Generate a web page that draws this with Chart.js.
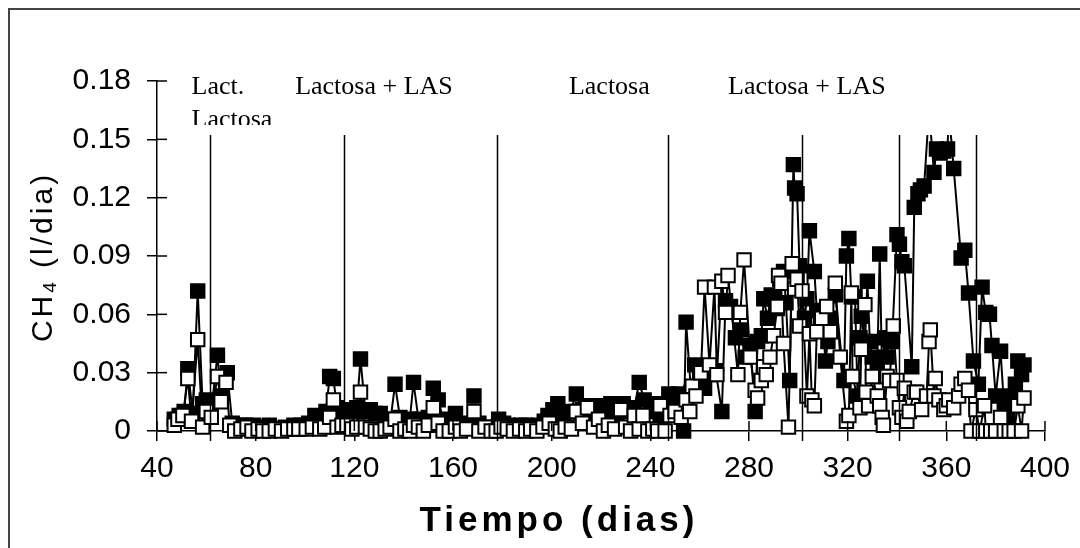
<!DOCTYPE html>
<html>
<head>
<meta charset="utf-8">
<script src="https://cdn.jsdelivr.net/npm/chart.js@4.4.0/dist/chart.umd.min.js"></script>
<style>
    html, body { margin: 0; padding: 0; background: #fff; }
    #wrap { width: 1080px; height: 548px; }
</style>
</head>
<body>
<div id="wrap"><canvas id="grafico" width="1080" height="548"></canvas></div>
<script>
// --- Datos: serie de cuadrados negros ---
const diasNegro = [
    47, 49, 51, 52.5, 54.5, 56.5, 58.5, 60, 62, 64.5, 66, 68.5, 70.5, 73.5,
    76, 79, 82.5, 85.5, 89, 92, 95.5, 98.5, 101.5, 104, 106, 108.5, 110, 111.5, 113, 115,
    117, 119, 121, 122.5, 124.5, 126.5, 128.5, 130.5, 132.5, 134.5, 136.5, 138.5, 140.5, 142.5,
    144, 146, 148, 150, 152, 154, 156, 158.5, 161, 163, 165.5, 168.5, 170.5, 173, 175.5, 178.5,
    180.5, 182.5, 185, 187.5, 189.5, 192, 194.5, 197, 198.5, 200.5, 202.5, 205, 207.5, 210,
    212.5, 214.5, 217, 220, 222, 224, 226.5, 229, 231.5, 233.5, 235.5, 237.5, 240, 242, 244,
    246, 247.5, 249.5, 251.5,
    253.5, 254.5, 256.5, 258, 260, 262, 264, 266.5, 269, 270.5, 272.5, 274.5, 276.5, 278.5,
    280.5, 282.5, 283.5, 285, 286, 287.5, 289, 290, 291.5, 292.5, 294, 295, 296.5, 298, 298.5,
    299.5, 300.5, 302.5, 303.5, 304.5, 306.5, 307.5, 309, 310, 311, 312, 313, 315, 318.5, 319.5,
    320.5, 321.5, 323, 324, 325, 325.5, 327, 328, 329, 330, 332, 333, 334, 335, 336, 337, 338,
    340, 341, 342, 343, 346, 347, 348.5, 349.5, 351, 353, 355, 356, 357.5, 359, 360.5, 361, 363,
    366, 367.5, 369, 371, 373, 374.5, 376, 377.5, 378.5, 380, 382, 383.5, 385, 386.5, 388, 389,
    390.5, 391.5
];
const ch4Negro = [
    0.006, 0.008, 0.010, 0.032, 0.009, 0.072, 0.014, 0.016, 0.010, 0.039, 0.018, 0.030, 0.004, 0.003,
    0.003, 0.003, 0.002, 0.003, 0.001, 0.002, 0.003, 0.003, 0.004, 0.008, 0.007, 0.010, 0.028, 0.027, 0.012, 0.010,
    0.011, 0.010, 0.012, 0.037, 0.010, 0.011, 0.009, 0.009, 0.006, 0.004, 0.024, 0.007, 0.005, 0.006,
    0.025, 0.006, 0.004, 0.007, 0.022, 0.016, 0.006, 0.004, 0.009, 0.004, 0.003, 0.018, 0.004, 0.002, 0.001, 0.006,
    0.004, 0.003, 0.002, 0.003, 0.003, 0.002, 0.003, 0.005, 0.008, 0.011, 0.014, 0.006, 0.010, 0.019,
    0.011, 0.013, 0.010, 0.013, 0.008, 0.014, 0.007, 0.014, 0.010, 0.012, 0.025, 0.016, 0.010, 0.014, 0.008,
    0.012, 0.019, 0.017, 0.019,
    0.000, 0.056, 0.020, 0.034, 0.028, 0.022, 0.029, 0.031, 0.010, 0.067, 0.064, 0.048, 0.052, 0.038,
    0.044, 0.010, 0.046, 0.049, 0.068, 0.058, 0.070, 0.068, 0.063, 0.078, 0.082, 0.066, 0.026, 0.137, 0.125,
    0.122, 0.085, 0.058, 0.068, 0.103, 0.082, 0.062, 0.058, 0.054, 0.036, 0.046, 0.058, 0.070, 0.026, 0.090,
    0.099, 0.069, 0.069, 0.018, 0.048, 0.059, 0.046, 0.077, 0.046, 0.038, 0.033, 0.091, 0.028, 0.048, 0.038, 0.047, 0.046,
    0.101, 0.096, 0.087, 0.085, 0.033, 0.115, 0.122, 0.124, 0.126, 0.165, 0.133, 0.145, 0.143, 0.144, 0.145, 0.165, 0.135,
    0.089, 0.093, 0.071, 0.036, 0.024, 0.074, 0.061, 0.060, 0.044, 0.018, 0.041, 0.011, 0.008, 0.018, 0.024, 0.036,
    0.029, 0.034
];

// --- Datos: serie de cuadrados blancos ---
const diasBlanco = [
    47, 48.5, 50.5, 52.5, 54, 56.5, 58.5, 60, 62, 64.5, 66, 68, 69.5, 71.5,
    74, 76.5, 78.5, 81, 83, 85.5, 88, 90.5, 93, 95.5, 97.5, 100.5, 103, 106, 108, 110,
    111.5, 113, 115, 117, 119, 121, 122.5, 124.5, 126.5, 128.5, 130.5, 132.5, 134.5, 136.5,
    138.5, 140.5, 142.5, 144, 146, 148, 150, 152, 154, 156, 158.5, 161, 163, 165.5, 168.5,
    170.5, 173, 175.5, 177.5, 179.5,
    182, 184.5, 187, 189.5, 191.5, 194, 196.5, 199, 201.5, 203.5, 205.5, 208, 210, 212.5,
    214.5, 217, 219, 221, 223, 225.5, 228, 230, 232, 233.5, 235.5, 237, 239, 241, 243, 244,
    246, 248,
    250, 252.5, 254.5, 256, 257, 258.5, 260.5, 262, 264, 266, 267, 269, 270.5, 271.5, 275.5,
    276.5, 278, 280.5, 282.5, 283.5, 285, 286, 287, 288.5, 290, 291.5, 292, 293, 294, 296,
    297.5, 298.5, 299.5, 300.5, 301.5, 303.5, 304.5, 305.5, 306.5, 307.5, 309.5, 311.5, 313,
    315, 317, 319.5, 320.5, 321.5, 322, 325, 325.5, 327, 327.5, 328.5, 330, 332, 333, 334,
    334.5, 336, 337, 338.5, 340, 341, 342, 343, 344, 345, 347, 348, 350, 352, 353, 353.5, 355,
    355.5, 357, 359, 360, 361, 363, 365, 366, 367.5, 369, 370, 372, 373.5, 375.5, 376, 378,
    380, 382, 383.5, 385.5, 387.5, 389, 390.5, 391.5
];
const ch4Blanco = [
    0.003, 0.006, 0.008, 0.027, 0.005, 0.047, 0.002, 0.010, 0.007, 0.028, 0.015, 0.025, 0.003, 0.000,
    0.001, 0.002, 0.000, 0.001, 0.000, 0.000, 0.001, 0.000, 0.001, 0.001, 0.001, 0.001, 0.002, 0.001, 0.002, 0.007,
    0.016, 0.002, 0.003, 0.003, 0.001, 0.002, 0.020, 0.002, 0.001, 0.000, 0.000, 0.001, 0.002, 0.006,
    0.000, 0.001, 0.000, 0.003, 0.002, 0.000, 0.003, 0.012, 0.004, 0.000, 0.000, 0.002, 0.000, 0.001, 0.010,
    0.000, 0.002, 0.000, 0.000, 0.002,
    0.001, 0.000, 0.001, 0.000, 0.001, 0.000, 0.002, 0.004, 0.001, 0.000, 0.002, 0.001, 0.010, 0.004,
    0.012, 0.002, 0.006, 0.000, 0.003, 0.001, 0.011, 0.002, 0.000, 0.008, 0.001, 0.008, 0.000, 0.001, 0.000, 0.013,
    0.000, 0.008,
    0.010, 0.007, 0.016, 0.010, 0.023, 0.018, 0.030, 0.074, 0.034, 0.074, 0.029, 0.077, 0.061, 0.080, 0.029,
    0.061, 0.088, 0.038, 0.021, 0.017, 0.026, 0.033, 0.029, 0.038, 0.049, 0.064, 0.080, 0.076, 0.045, 0.002,
    0.086, 0.073, 0.078, 0.054, 0.072, 0.018, 0.050, 0.016, 0.013, 0.051, 0.058, 0.064, 0.051,
    0.076, 0.038, 0.005, 0.008, 0.071, 0.028, 0.012, 0.042, 0.065, 0.020, 0.013, 0.028, 0.018, 0.013, 0.007,
    0.003, 0.028, 0.026, 0.054, 0.026, 0.012, 0.007, 0.022, 0.005, 0.010, 0.020, 0.020, 0.011, 0.018, 0.046, 0.052, 0.018,
    0.027, 0.016, 0.011, 0.013, 0.016, 0.012, 0.018, 0.024, 0.027, 0.021, 0.000, 0.011, 0.000, 0.013, 0.000, 0.000,
    0.000, 0.007, 0.000, 0.000, 0.000, 0.013, 0.000, 0.017
];

// --- Ejes y anotaciones ---
const ticksX = [40, 80, 120, 160, 200, 240, 280, 320, 360, 400];
const ticksY = [0, 0.03, 0.06, 0.09, 0.12, 0.15, 0.18];
const cambios = [61.5, 116, 178, 247, 301.5, 341, 372];   // dias de cambio de alimentacion
const etiquetas = ['Lact.', 'Lactosa + LAS', 'Lactosa', 'Lactosa + LAS'];
const diaEtiquetas = [54, 96, 207, 271.5];
const limiteCaja = 0.1522;   // borde inferior del cuadro de texto

function puntos(dias, valores) {
    return dias.map((d, i) => ({ x: d, y: valores[i] }));
}

// Plugin: cuadro de texto, lineas de cambio, marcas interiores y titulos
const anotaciones = {
    id: 'anotaciones',
    afterDraw(chart) {
        const { ctx, chartArea: a, scales: { x, y } } = chart;
        const yCaja = y.getPixelForValue(limiteCaja);
        ctx.save();

        // cuadro blanco que tapa la parte alta
        ctx.fillStyle = '#fff';
        ctx.fillRect(a.left + 14, 12, a.right - a.left - 6, yCaja - 12);

        // lineas verticales de cambio
        ctx.strokeStyle = '#000';
        ctx.lineWidth = 1.5;
        cambios.forEach(d => {
            const px = Math.round(x.getPixelForValue(d)) + 0.5;
            ctx.beginPath();
            ctx.moveTo(px, yCaja);
            ctx.lineTo(px, a.bottom + 10);
            ctx.stroke();
        });

        // mitad interior de las marcas de los ejes
        ticksX.forEach(v => {
            const px = x.getPixelForValue(v);
            ctx.beginPath();
            ctx.moveTo(px, a.bottom);
            ctx.lineTo(px, a.bottom - 10);
            ctx.stroke();
        });
        ticksY.forEach(v => {
            const py = y.getPixelForValue(v);
            ctx.beginPath();
            ctx.moveTo(a.left, py);
            ctx.lineTo(a.left + 10, py);
            ctx.stroke();
        });

        // etiquetas de periodos
        ctx.fillStyle = '#000';
        ctx.font = '26px "Liberation Serif", "Times New Roman", serif';
        ctx.textBaseline = 'alphabetic';
        ctx.textAlign = 'left';
        etiquetas.forEach((t, i) => {
            ctx.fillText(t, x.getPixelForValue(diaEtiquetas[i]), 94);
        });
        // segunda linea recortada por el cuadro
        ctx.save();
        ctx.beginPath();
        ctx.rect(a.left + 14, 100, 200, 25);
        ctx.clip();
        ctx.fillText('Lactosa', x.getPixelForValue(diaEtiquetas[0]), 127);
        ctx.restore();

        // titulo eje x
        ctx.font = 'bold 35px "Liberation Sans", Arial, sans-serif';
        ctx.textAlign = 'center';
        if ('letterSpacing' in ctx) ctx.letterSpacing = '4px';
        ctx.fillText('Tiempo (dias)', 559, 531);
        if ('letterSpacing' in ctx) ctx.letterSpacing = '0px';

        // titulo eje y (CH4 con subindice)
        ctx.translate(52, 257);
        ctx.rotate(-Math.PI / 2);
        if ('letterSpacing' in ctx) ctx.letterSpacing = '3px';
        ctx.textAlign = 'left';
        const fGrande = '30px "Liberation Sans", Arial, sans-serif';
        const fChica = '19px "Liberation Sans", Arial, sans-serif';
        ctx.font = fGrande;
        const w1 = ctx.measureText('CH').width;
        const w3 = ctx.measureText(' (l/dia)').width;
        ctx.font = fChica;
        const w2 = ctx.measureText('4').width;
        let cx = -(w1 + w2 + w3) / 2;
        ctx.font = fGrande;
        ctx.fillText('CH', cx, 0);
        cx += w1;
        ctx.font = fChica;
        ctx.fillText('4', cx, 4);
        cx += w2;
        ctx.font = fGrande;
        ctx.fillText(' (l/dia)', cx, 0);
        ctx.restore();

        // marco exterior
        ctx.save();
        ctx.strokeStyle = '#444';
        ctx.lineWidth = 2;
        ctx.beginPath();
        ctx.moveTo(9, 560);
        ctx.lineTo(9, 9);
        ctx.lineTo(1080, 9);
        ctx.stroke();
        ctx.restore();
    }
};

const ctx = document.getElementById('grafico').getContext('2d');
const comun = {
    showLine: true,
    borderColor: '#000',
    borderWidth: 2,
    pointStyle: 'rect',
    pointRadius: 9.5,
    pointBorderColor: '#000',
    pointBorderWidth: 2,
    tension: 0,
    clip: false
};

const grafico = new Chart(ctx, {
    type: 'scatter',
    data: {
        datasets: [
            Object.assign({}, comun, {
                label: 'Blanco',
                data: puntos(diasBlanco, ch4Blanco),
                pointBackgroundColor: '#fff',
                order: 1
            }),
            Object.assign({}, comun, {
                label: 'Negro',
                data: puntos(diasNegro, ch4Negro),
                pointBackgroundColor: '#000',
                order: 2
            })
        ]
    },
    options: {
        responsive: false,
        animation: false,
        devicePixelRatio: 1,
        layout: { padding: { top: 81, right: 31, left: 0, bottom: 0 } },
        plugins: { legend: { display: false }, tooltip: { enabled: false } },
        scales: {
            x: {
                type: 'linear',
                min: 40,
                max: 400,
                afterBuildTicks: s => { s.ticks = ticksX.map(v => ({ value: v })); },
                ticks: {
                    color: '#000',
                    font: { family: '"Liberation Sans", Arial, sans-serif', size: 30 },
                    padding: 10,
                    maxRotation: 0,
                    callback: v => String(v)
                },
                grid: { drawOnChartArea: false, tickLength: 10, color: '#000', lineWidth: 1.5 },
                border: { color: '#000', width: 1.5 },
                afterFit: s => { s.height = 117; }
            },
            y: {
                type: 'linear',
                min: 0,
                max: 0.18,
                afterBuildTicks: s => { s.ticks = ticksY.map(v => ({ value: v })); },
                ticks: {
                    color: '#000',
                    font: { family: '"Liberation Sans", Arial, sans-serif', size: 30 },
                    padding: 16,
                    callback: v => (v === 0 ? '0' : v.toFixed(2))
                },
                grid: { drawOnChartArea: false, tickLength: 10, color: '#000', lineWidth: 1.5 },
                border: { color: '#000', width: 1.5 },
                afterFit: s => { s.width = 157; }
            }
        }
    },
    plugins: [anotaciones]
});
</script>
</body>
</html>
